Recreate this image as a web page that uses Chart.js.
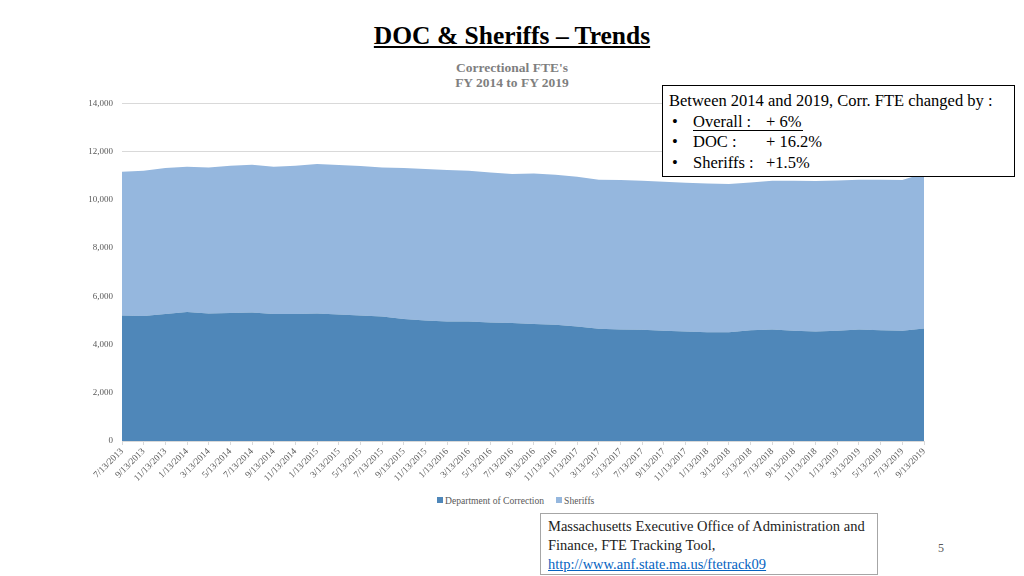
<!DOCTYPE html>
<html>
<head>
<meta charset="utf-8">
<script src="https://cdn.jsdelivr.net/npm/chart.js@4/dist/chart.umd.min.js"></script>
<style>
  body{ margin:0; width:1024px; height:576px; background:#fff; position:relative; overflow:hidden;
        font-family:"Liberation Serif","DejaVu Serif",serif; }
  .title{ position:absolute; left:0; width:1024px; top:21px; text-align:center;
          font-size:25.5px; font-weight:bold; text-decoration:underline; color:#000; }
  .sub{ position:absolute; left:0; width:1024px; top:60px; text-align:center;
        font-size:13.5px; font-weight:bold; color:#7f7f7f; line-height:15px; }
  #wrap{ position:absolute; left:60px; top:89px; width:906px; height:397px; }
  #legend{ position:absolute; left:437px; top:494px; height:12px; display:flex; align-items:center;
           font-size:9.6px; color:#595959; white-space:nowrap; }
  #legend .item{ display:flex; align-items:center; margin-right:12px; }
  #legend .box{ width:6px; height:6px; margin-right:2px; }
  .note{ position:absolute; left:662px; top:85px; width:353px; height:92px; border:1px solid #000;
         background:#fff; font-size:16.5px; color:#000; line-height:20.5px; padding-top:5px; box-sizing:border-box; }
  .note div{ position:relative; height:20.5px; }
  .note .head{ padding-left:6px; white-space:nowrap; }
  .note .b{ position:absolute; left:9px; }
  .note .k{ position:absolute; left:30px; }
  .note .v{ position:absolute; left:103px; white-space:nowrap; }
  .note .u{ position:absolute; left:30px; width:110px; height:0; top:18px; border-top:1px solid #000; }
  .src{ position:absolute; left:540px; top:513px; width:338px; height:62px; border:1px solid #a6a6a6;
        box-sizing:border-box; font-size:14.5px; line-height:19px; color:#222; padding:3px 0 0 7px; }
  .src a{ color:#0563c1; text-decoration:underline; }
  .pg{ position:absolute; left:938px; top:541px; font-size:12px; color:#595959; }
</style>
</head>
<body>
<div class="title">DOC &amp; Sheriffs – Trends</div>
<div class="sub">Correctional FTE's<br>FY 2014 to FY 2019</div>
<div id="wrap"><canvas id="chart"></canvas></div>
<div id="legend"></div>
<div class="note">
  <div class="head">Between 2014 and 2019, Corr. FTE changed by :</div>
  <div><span class="b">•</span><span class="k">Overall :</span><span class="v">+ 6%</span><span class="u"></span></div>
  <div><span class="b">•</span><span class="k">DOC :</span><span class="v">+ 16.2%</span></div>
  <div><span class="b">•</span><span class="k">Sheriffs :</span><span class="v">+1.5%</span></div>
</div>
<div class="src">Massachusetts Executive Office of Administration and Finance, FTE Tracking Tool,<br><a>http://www.anf.state.ma.us/ftetrack09</a></div>
<div class="pg">5</div>

<script>
// pay dates, every two months
const dates = [
  "7/13/2013","9/13/2013","11/13/2013",
  "1/13/2014","3/13/2014","5/13/2014","7/13/2014","9/13/2014","11/13/2014",
  "1/13/2015","3/13/2015","5/13/2015","7/13/2015","9/13/2015","11/13/2015",
  "1/13/2016","3/13/2016","5/13/2016","7/13/2016","9/13/2016","11/13/2016",
  "1/13/2017","3/13/2017","5/13/2017","7/13/2017","9/13/2017","11/13/2017",
  "1/13/2018","3/13/2018","5/13/2018","7/13/2018","9/13/2018","11/13/2018",
  "1/13/2019","3/13/2019","5/13/2019","7/13/2019","9/13/2019"
];

const docFTE = [
  5208,5181,5264,5347,5292,5306,5333,5264,5264,5292,5250,5208,5167,5056,5000,
  4958,4958,4917,4889,4847,4819,4750,4653,4625,4611,4569,4542,4514,4514,4597,
  4625,4569,4542,4569,4625,4597,4569,4667
];

const sheriffsFTE = [
  5959,6027,6055,6028,6055,6111,6125,6111,6153,6194,6194,6195,6180,6263,6278,
  6278,6250,6222,6180,6250,6223,6208,6180,6194,6181,6181,6166,6167,6139,6125,
  6167,6223,6236,6237,6208,6236,6250,6433
];

const yMax = 14000;
const yStep = 2000;

const serif = "'Liberation Serif','DejaVu Serif',serif";

const chart = new Chart(document.getElementById("chart"), {
  type: "line",
  data: {
    labels: dates,
    datasets: [
      { label: "Department of Correction", data: docFTE, fill: "origin",
        backgroundColor: "#4f87b9", borderWidth: 0, pointRadius: 0, tension: 0 },
      { label: "Sheriffs", data: sheriffsFTE, fill: "-1",
        backgroundColor: "#95b7de", borderWidth: 0, pointRadius: 0, tension: 0 }
    ]
  },
  options: {
    responsive: true,
    maintainAspectRatio: false,
    animation: false,
    layout: { padding: { top: 2, right: 42, left: 0, bottom: 0 } },
    plugins: {
      legend: { display: false },
      tooltip: { enabled: false }
    },
    scales: {
      x: {
        offset: false,
        grid: { drawOnChartArea: false, color: "#d9d9d9", tickLength: 4 },
        border: { color: "#d9d9d9" },
        ticks: {
          autoSkip: false, maxRotation: 45, minRotation: 45, padding: 1,
          color: "#595959", font: { family: serif, size: 9.3 }
        },
        afterFit(s){ s.height = 45; }
      },
      y: {
        stacked: true, min: 0, max: yMax,
        grid: { color: "#d9d9d9", drawTicks: false },
        border: { display: false },
        ticks: {
          stepSize: yStep, padding: 9,
          color: "#595959", font: { family: serif, size: 9 },
          callback: v => v.toLocaleString("en-US")
        },
        afterFit(s){ s.width = 62; }
      }
    }
  }
});

// legend (html, centred under the plot like the source slide)
function renderLegend(ch){
  const wrap = document.getElementById("legend");
  wrap.innerHTML = "";
  ch.data.datasets.forEach(ds=>{
    const item = document.createElement("div");
    item.className = "item";
    item.innerHTML = `<span class="box" style="background:${ds.backgroundColor}"></span><span>${ds.label}</span>`;
    wrap.appendChild(item);
  });
}
renderLegend(chart);
</script>
</body>
</html>
